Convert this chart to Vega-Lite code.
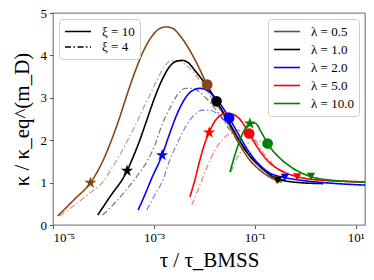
{
  "$schema": "https://vega.github.io/schema/vega-lite/v6.json",
  "width": 312,
  "height": 212,
  "autosize": {"type": "none"},
  "padding": {"left": 53, "top": 13, "right": 9, "bottom": 55},
  "config": {
    "view": {"stroke": "#888888", "strokeWidth": 1.3},
    "axis": {"domain": false, "grid": false, "tickColor": "#555555", "tickSize": 3.5, "tickWidth": 1, "labelFont": "Liberation Serif", "labelFontSize": 13, "labelColor": "#000000", "titleFont": "Liberation Serif", "titleFontSize": 21, "titleFontWeight": "normal", "titleColor": "#000000"},
    "legend": {"fillColor": "#ffffff", "strokeColor": "#cccccc", "cornerRadius": 3, "padding": 5, "offset": 6, "labelFont": "Liberation Serif", "labelFontSize": 13, "labelColor": "#000000", "symbolType": "M-1,0L3,0", "symbolSize": 169, "symbolStrokeWidth": 1.6, "labelOffset": 23}
  },
  "datasets": {
    "lines": [
      {"l":"0.5","k":"10","x":1.239e-5,"y":0.212},{"l":"0.5","k":"10","x":2.697e-5,"y":0.612},{"l":"0.5","k":"10","x":5.52e-5,"y":0.995},{"l":"0.5","k":"10","x":9.68e-5,"y":1.506},{"l":"0.5","k":"10","x":1.443e-4,"y":2.0},{"l":"0.5","k":"10","x":2.10e-4,"y":2.541},{"l":"0.5","k":"10","x":2.86e-4,"y":3.035},{"l":"0.5","k":"10","x":4.18e-4,"y":3.6},{"l":"0.5","k":"10","x":6.03e-4,"y":4.071},{"l":"0.5","k":"10","x":9.08e-4,"y":4.447},{"l":"0.5","k":"10","x":1.309e-3,"y":4.635},{"l":"0.5","k":"10","x":1.722e-3,"y":4.671},{"l":"0.5","k":"10","x":2.371e-3,"y":4.635},{"l":"0.5","k":"10","x":3.266e-3,"y":4.471},{"l":"0.5","k":"10","x":4.498e-3,"y":4.235},{"l":"0.5","k":"10","x":7.10e-3,"y":3.812},{"l":"0.5","k":"10","x":1.122e-2,"y":3.318},{"l":"0.5","k":"10","x":1.770e-2,"y":2.894},{"l":"0.5","k":"10","x":2.924e-2,"y":2.424},{"l":"0.5","k":"10","x":5.06e-2,"y":1.882},{"l":"0.5","k":"10","x":7.99e-2,"y":1.529},{"l":"0.5","k":"10","x":0.1262,"y":1.294},{"l":"0.5","k":"10","x":0.1995,"y":1.129},{"l":"0.5","k":"10","x":0.345,"y":1.012},
      {"l":"1.0","k":"10","x":7.71e-5,"y":0.235},{"l":"1.0","k":"10","x":1.334e-4,"y":0.659},{"l":"1.0","k":"10","x":2.94e-4,"y":1.278},{"l":"1.0","k":"10","x":3.65e-4,"y":1.529},{"l":"1.0","k":"10","x":5.25e-4,"y":2.0},{"l":"1.0","k":"10","x":7.22e-4,"y":2.471},{"l":"1.0","k":"10","x":1.042e-3,"y":3.012},{"l":"1.0","k":"10","x":1.436e-3,"y":3.412},{"l":"1.0","k":"10","x":2.065e-3,"y":3.741},{"l":"1.0","k":"10","x":2.723e-3,"y":3.859},{"l":"1.0","k":"10","x":3.58e-3,"y":3.882},{"l":"1.0","k":"10","x":4.71e-3,"y":3.835},{"l":"1.0","k":"10","x":6.49e-3,"y":3.647},{"l":"1.0","k":"10","x":1.023e-2,"y":3.341},{"l":"1.0","k":"10","x":1.746e-2,"y":2.918},{"l":"1.0","k":"10","x":2.924e-2,"y":2.471},{"l":"1.0","k":"10","x":5.06e-2,"y":1.976},{"l":"1.0","k":"10","x":7.99e-2,"y":1.624},{"l":"1.0","k":"10","x":0.1384,"y":1.341},{"l":"1.0","k":"10","x":0.2183,"y":1.153},{"l":"1.0","k":"10","x":0.345,"y":1.059},{"l":"1.0","k":"10","x":0.785,"y":1.0},{"l":"1.0","k":"10","x":2.244,"y":0.976},
      {"l":"2.0","k":"10","x":4.87e-4,"y":0.353},{"l":"2.0","k":"10","x":6.59e-4,"y":0.706},{"l":"2.0","k":"10","x":9.08e-4,"y":1.106},{"l":"2.0","k":"10","x":1.456e-3,"y":1.647},{"l":"2.0","k":"10","x":2.065e-3,"y":2.165},{"l":"2.0","k":"10","x":2.98e-3,"y":2.659},{"l":"2.0","k":"10","x":4.30e-3,"y":3.012},{"l":"2.0","k":"10","x":5.92e-3,"y":3.176},{"l":"2.0","k":"10","x":8.15e-3,"y":3.224},{"l":"2.0","k":"10","x":1.122e-2,"y":3.176},{"l":"2.0","k":"10","x":1.614e-2,"y":3.012},{"l":"2.0","k":"10","x":2.223e-2,"y":2.8},{"l":"2.0","k":"10","x":3.105e-2,"y":2.525},{"l":"2.0","k":"10","x":4.62e-2,"y":2.165},{"l":"2.0","k":"10","x":7.29e-2,"y":1.765},{"l":"2.0","k":"10","x":0.1153,"y":1.459},{"l":"2.0","k":"10","x":0.1995,"y":1.224},{"l":"2.0","k":"10","x":0.361,"y":1.129},{"l":"2.0","k":"10","x":0.785,"y":1.059},{"l":"2.0","k":"10","x":3.09,"y":0.988},{"l":"2.0","k":"10","x":15.3,"y":0.941},
      {"l":"5.0","k":"10","x":5.15e-3,"y":0.659},{"l":"5.0","k":"10","x":6.49e-3,"y":1.059},{"l":"5.0","k":"10","x":8.15e-3,"y":1.529},{"l":"5.0","k":"10","x":1.023e-2,"y":1.929},{"l":"5.0","k":"10","x":1.245e-2,"y":2.181},{"l":"5.0","k":"10","x":1.614e-2,"y":2.447},{"l":"5.0","k":"10","x":2.123e-2,"y":2.588},{"l":"5.0","k":"10","x":2.79e-2,"y":2.635},{"l":"5.0","k":"10","x":3.67e-2,"y":2.612},{"l":"5.0","k":"10","x":5.06e-2,"y":2.494},{"l":"5.0","k":"10","x":7.74e-2,"y":2.158},{"l":"5.0","k":"10","x":0.1153,"y":1.812},{"l":"5.0","k":"10","x":0.182,"y":1.506},{"l":"5.0","k":"10","x":0.315,"y":1.294},{"l":"5.0","k":"10","x":0.684,"y":1.141},{"l":"5.0","k":"10","x":1.958,"y":1.059},{"l":"5.0","k":"10","x":15.3,"y":1.019},
      {"l":"10.0","k":"10","x":3.21e-2,"y":1.247},{"l":"10.0","k":"10","x":4.03e-2,"y":1.647},{"l":"10.0","k":"10","x":5.06e-2,"y":2.0},{"l":"10.0","k":"10","x":6.37e-2,"y":2.259},{"l":"10.0","k":"10","x":7.99e-2,"y":2.393},{"l":"10.0","k":"10","x":0.1005,"y":2.4},{"l":"10.0","k":"10","x":0.1384,"y":2.165},{"l":"10.0","k":"10","x":0.1795,"y":1.922},{"l":"10.0","k":"10","x":0.287,"y":1.624},{"l":"10.0","k":"10","x":0.497,"y":1.388},{"l":"10.0","k":"10","x":1.297,"y":1.141},{"l":"10.0","k":"10","x":3.09,"y":1.059},{"l":"10.0","k":"10","x":15.3,"y":1.012},
      {"l":"0.5","k":"4","x":1.358e-5,"y":0.212},{"l":"0.5","k":"4","x":2.697e-5,"y":0.471},{"l":"0.5","k":"4","x":5.35e-5,"y":0.753},{"l":"0.5","k":"4","x":9.68e-5,"y":1.012},{"l":"0.5","k":"4","x":1.462e-4,"y":1.341},{"l":"0.5","k":"4","x":2.10e-4,"y":1.647},{"l":"0.5","k":"4","x":3.03e-4,"y":2.0},{"l":"0.5","k":"4","x":4.58e-4,"y":2.424},{"l":"0.5","k":"4","x":6.59e-4,"y":2.824},{"l":"0.5","k":"4","x":8.30e-4,"y":3.059},{"l":"0.5","k":"4","x":1.143e-3,"y":3.412},{"l":"0.5","k":"4","x":1.570e-3,"y":3.718},{"l":"0.5","k":"4","x":2.234e-3,"y":3.882},{"l":"0.5","k":"4","x":3.266e-3,"y":3.859},{"l":"0.5","k":"4","x":5.15e-3,"y":3.694},{"l":"0.5","k":"4","x":8.15e-3,"y":3.412},{"l":"0.5","k":"4","x":1.285e-2,"y":3.059},{"l":"0.5","k":"4","x":2.032e-2,"y":2.706},{"l":"0.5","k":"4","x":3.52e-2,"y":2.235},{"l":"0.5","k":"4","x":6.37e-2,"y":1.765},{"l":"0.5","k":"4","x":0.1153,"y":1.412},{"l":"0.5","k":"4","x":0.1995,"y":1.176},{"l":"0.5","k":"4","x":0.345,"y":1.059},
      {"l":"1.0","k":"4","x":9.68e-5,"y":0.235},{"l":"1.0","k":"4","x":1.675e-4,"y":0.518},{"l":"1.0","k":"4","x":3.03e-4,"y":0.871},{"l":"1.0","k":"4","x":4.80e-4,"y":1.176},{"l":"1.0","k":"4","x":7.57e-4,"y":1.529},{"l":"1.0","k":"4","x":1.042e-3,"y":1.882},{"l":"1.0","k":"4","x":1.436e-3,"y":2.353},{"l":"1.0","k":"4","x":2.065e-3,"y":2.753},{"l":"1.0","k":"4","x":2.98e-3,"y":3.082},{"l":"1.0","k":"4","x":4.30e-3,"y":3.224},{"l":"1.0","k":"4","x":5.92e-3,"y":3.224},{"l":"1.0","k":"4","x":8.15e-3,"y":3.129},{"l":"1.0","k":"4","x":1.285e-2,"y":2.894},{"l":"1.0","k":"4","x":2.032e-2,"y":2.588},{"l":"1.0","k":"4","x":3.52e-2,"y":2.165},{"l":"1.0","k":"4","x":6.37e-2,"y":1.765},{"l":"1.0","k":"4","x":0.1153,"y":1.412},{"l":"1.0","k":"4","x":0.1995,"y":1.176},{"l":"1.0","k":"4","x":0.345,"y":1.059},
      {"l":"2.0","k":"4","x":7.22e-4,"y":0.353},{"l":"2.0","k":"4","x":1.042e-3,"y":0.706},{"l":"2.0","k":"4","x":1.503e-3,"y":1.059},{"l":"2.0","k":"4","x":2.065e-3,"y":1.529},{"l":"2.0","k":"4","x":2.98e-3,"y":1.953},{"l":"2.0","k":"4","x":4.30e-3,"y":2.329},{"l":"2.0","k":"4","x":6.19e-3,"y":2.588},{"l":"2.0","k":"4","x":8.91e-3,"y":2.706},{"l":"2.0","k":"4","x":1.285e-2,"y":2.706},{"l":"2.0","k":"4","x":1.854e-2,"y":2.612},{"l":"2.0","k":"4","x":2.924e-2,"y":2.376},{"l":"2.0","k":"4","x":4.62e-2,"y":2.071},{"l":"2.0","k":"4","x":7.29e-2,"y":1.718},{"l":"2.0","k":"4","x":0.1262,"y":1.388},{"l":"2.0","k":"4","x":0.2183,"y":1.153},{"l":"2.0","k":"4","x":0.395,"y":1.059},
      {"l":"5.0","k":"4","x":5.65e-3,"y":0.471},{"l":"5.0","k":"4","x":8.15e-3,"y":0.941},{"l":"5.0","k":"4","x":1.172e-2,"y":1.412},{"l":"5.0","k":"4","x":1.614e-2,"y":1.765},{"l":"5.0","k":"4","x":2.223e-2,"y":2.0},{"l":"5.0","k":"4","x":3.21e-2,"y":2.165},{"l":"5.0","k":"4","x":4.62e-2,"y":2.235},{"l":"5.0","k":"4","x":6.65e-2,"y":2.212},{"l":"5.0","k":"4","x":0.1005,"y":2.0},{"l":"5.0","k":"4","x":0.1585,"y":1.647},{"l":"5.0","k":"4","x":0.2506,"y":1.388},{"l":"5.0","k":"4","x":0.497,"y":1.2},{"l":"5.0","k":"4","x":1.239,"y":1.082},{"l":"5.0","k":"4","x":4.88,"y":1.035},{"l":"5.0","k":"4","x":15.3,"y":1.012},
      {"l":"10.0","k":"4","x":3.36e-2,"y":1.247},{"l":"10.0","k":"4","x":4.22e-2,"y":1.529},{"l":"10.0","k":"4","x":5.55e-2,"y":1.765},{"l":"10.0","k":"4","x":7.29e-2,"y":1.929},{"l":"10.0","k":"4","x":0.1005,"y":2.0},{"l":"10.0","k":"4","x":0.1384,"y":1.953},{"l":"10.0","k":"4","x":0.1995,"y":1.812},{"l":"10.0","k":"4","x":0.315,"y":1.576},{"l":"10.0","k":"4","x":0.545,"y":1.341},{"l":"10.0","k":"4","x":1.239,"y":1.153},{"l":"10.0","k":"4","x":3.09,"y":1.059},{"l":"10.0","k":"4","x":15.3,"y":1.012}
    ],
    "pts": [
      {"l":"0.5","m":"star","x":5.52e-5,"y":0.995},{"l":"1.0","m":"star","x":2.94e-4,"y":1.278},{"l":"2.0","m":"star","x":1.456e-3,"y":1.647},{"l":"5.0","m":"star","x":1.245e-2,"y":2.181},{"l":"10.0","m":"star","x":7.99e-2,"y":2.393},
      {"l":"0.5","m":"circle","x":1.138e-2,"y":3.311},{"l":"1.0","m":"circle","x":1.746e-2,"y":2.918},{"l":"2.0","m":"circle","x":3.105e-2,"y":2.525},{"l":"5.0","m":"circle","x":7.74e-2,"y":2.158},{"l":"10.0","m":"circle","x":0.1795,"y":1.922},
      {"l":"0.5","m":"tri","x":0.271,"y":1.059},{"l":"1.0","m":"tri","x":0.287,"y":1.059},{"l":"2.0","m":"tri","x":0.395,"y":1.122},{"l":"5.0","m":"tri","x":0.693,"y":1.136},{"l":"10.0","m":"tri","x":1.297,"y":1.146}
    ]
  },
  "encoding": {
    "x": {"field": "x", "type": "quantitative", "scale": {"type": "log", "domain": [1e-5, 15.3], "nice": false},
      "axis": {"values": [1e-5, 0.001, 0.1, 10], "labelExpr": "datum.value < 1e-4 ? '10⁻⁵' : datum.value < 1e-2 ? '10⁻³' : datum.value < 1 ? '10⁻¹' : '10¹'", "title": "τ / τ_BMSS", "labelPadding": 3, "titlePadding": 5}},
    "y": {"field": "y", "type": "quantitative", "scale": {"domain": [0, 5], "nice": false},
      "axis": {"values": [0, 1, 2, 3, 4, 5], "title": "κ / κ_eq^(m_D)", "labelPadding": 3, "titlePadding": 8}}
  },
  "layer": [
    {
      "data": {"name": "lines"},
      "transform": [{"filter": "datum.k == '4'"}],
      "mark": {"type": "line", "interpolate": "monotone", "strokeWidth": 1.3, "opacity": 0.5, "clip": true},
      "encoding": {
        "color": {"field": "l", "type": "nominal", "scale": {"domain": ["0.5", "1.0", "2.0", "5.0", "10.0"], "range": ["#8B4513", "#000000", "#0000ff", "#ff0000", "#008000"]},
          "legend": {"orient": "top-right", "title": null, "labelExpr": "'λ = ' + datum.label", "symbolOpacity": 1, "rowPadding": 3}},
        "strokeDash": {"field": "k", "type": "nominal", "scale": {"domain": ["10", "4"], "range": [[1, 0], [6, 2.5, 1.5, 2.5]]},
          "legend": {"orient": "top-left", "title": null, "labelExpr": "'ξ = ' + datum.label", "symbolStrokeColor": "#000000", "symbolOpacity": 1, "rowPadding": 0.5}}
      }
    },
    {
      "data": {"name": "lines"},
      "transform": [{"filter": "datum.k == '10'"}],
      "mark": {"type": "line", "interpolate": "monotone", "strokeWidth": 1.6, "clip": true},
      "encoding": {
        "color": {"field": "l", "type": "nominal"},
        "strokeDash": {"field": "k", "type": "nominal"}
      }
    },
    {
      "data": {"name": "pts"},
      "mark": {"type": "point", "filled": true, "opacity": 1},
      "encoding": {
        "shape": {"field": "m", "type": "nominal", "scale": {"domain": ["star", "circle", "tri"], "range": ["M0,-1L0.225,-0.309L0.951,-0.309L0.363,0.118L0.588,0.809L0,0.382L-0.588,0.809L-0.363,0.118L-0.951,-0.309L-0.225,-0.309Z", "circle", "triangle-down"]}, "legend": null},
        "size": {"field": "m", "type": "nominal", "scale": {"domain": ["star", "circle", "tri"], "range": [160, 70, 60]}, "legend": null},
        "fill": {"field": "l", "type": "nominal", "scale": {"domain": ["0.5", "1.0", "2.0", "5.0", "10.0"], "range": ["#8B4513", "#000000", "#0000ff", "#ff0000", "#008000"]}, "legend": null}
      }
    }
  ]
}
